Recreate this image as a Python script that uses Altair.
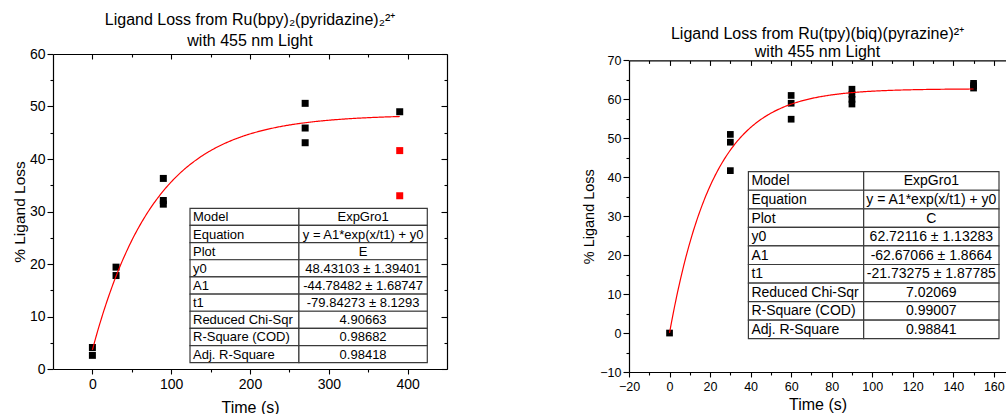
import altair as alt
import pandas as pd
import numpy as np

FONT = "Liberation Sans"

# ---------------- data ----------------
# Left panel: Ru(bpy)2(pyridazine)2 2+
left_black_t = [0, 0, 30, 30, 90, 90, 90, 270, 270, 270, 390]
left_black_y = [4.1, 2.6, 19.4, 17.8, 36.3, 32.1, 31.4, 50.6, 45.9, 43.1, 49.0]
left_red_t = [390, 390]
left_red_y = [41.6, 33.0]
left_fit = {"y0": 48.43103, "A1": -44.78482, "t1": -79.84273}
left_fit_tmax = 390
left_table_values = ["ExpGro1", "y = A1*exp(x/t1) + y0", "E",
                     "48.43103 ± 1.39401", "-44.78482 ± 1.68747",
                     "-79.84273 ± 8.1293", "4.90663", "0.98682", "0.98418"]
left_xticks = [0, 100, 200, 300, 400]
left_xminor = [50, 150, 250, 350]
left_yticks = [0, 10, 20, 30, 40, 50, 60]
left_yminor = [5, 15, 25, 35, 45, 55]

# Right panel: Ru(tpy)(biq)(pyrazine) 2+
right_t = [0, 30, 30, 30, 60, 60, 60, 90, 90, 90, 90, 150, 150, 150]
right_y = [0.0, 51.0, 49.0, 41.7, 61.0, 59.0, 54.9, 62.6, 61.3, 60.0, 58.8, 64.1, 63.5, 62.9]
right_fit = {"y0": 62.72116, "A1": -62.67066, "t1": -21.73275}
right_fit_tmax = 150
right_table_values = ["ExpGro1", "y = A1*exp(x/t1) + y0", "C",
                      "62.72116 ± 1.13283", "-62.67066 ± 1.8664",
                      "-21.73275 ± 1.87785", "7.02069", "0.99007", "0.98841"]
right_xticks = [-20, 0, 20, 40, 60, 80, 100, 120, 140, 160]
right_xminor = [-10, 10, 30, 50, 70, 90, 110, 130, 150]
right_yticks = [-10, 0, 10, 20, 30, 40, 50, 60, 70]
right_yminor = [-5, 5, 15, 25, 35, 45, 55, 65]

table_labels = ["Model", "Equation", "Plot", "y0", "A1", "t1",
                "Reduced Chi-Sqr", "R-Square (COD)", "Adj. R-Square"]

NB = "\u00a0"


def fit_curve(fit, tmax):
    t = np.linspace(0, tmax, 300)
    return pd.DataFrame({"t": t, "y": fit["y0"] + fit["A1"] * np.exp(t / fit["t1"])})


def make_panel(black_t, black_y, red_t, red_y, fit, tmax, tvals,
               xdom, ydom, W, H, ytop, xmaj, xmin, ymaj, ymin, st, box, mirror_right, title):
    xs = alt.Scale(domain=xdom, nice=False, zero=False)
    ys = alt.Scale(domain=ydom, nice=False, zero=False, range=[H, ytop])
    pts = pd.DataFrame({"t": black_t, "y": black_y})
    reds = pd.DataFrame({"t": red_t, "y": red_y})
    curve = fit_curve(fit, tmax)

    common = dict(grid=False, domainColor="black", tickColor="black",
                  labelColor="black", titleColor="black", labelFont=FONT,
                  titleFont=FONT, domainWidth=1.2, tickWidth=1.1)
    hide = dict(labels=False, title=None)
    top_off = -(H - ytop)

    # visible points with primary axes
    l1 = alt.Chart(pts).mark_square(size=st["msize"], color="black", opacity=1).encode(
        x=alt.X("t:Q", scale=xs, axis=alt.Axis(
            orient="bottom", values=xmaj, tickSize=5, labelFontSize=st["lab"],
            title="Time (s)", titleFontSize=st["xtit"], titleFontWeight="normal",
            labelPadding=3, titlePadding=st["xtp"], labelFlush=False, **common)),
        y=alt.Y("y:Q", scale=ys, axis=alt.Axis(
            orient="left", values=ymaj, tickSize=6, labelFontSize=st["lab"],
            title="% Ligand Loss", titleFontSize=st["ytit"], titleFontWeight="normal",
            labelPadding=2, titlePadding=st["ytp"], labelFlush=False, **common)),
    )
    # minor ticks bottom / left
    l2 = alt.Chart(pts).mark_point(opacity=0).encode(
        x=alt.X("t:Q", scale=xs, axis=alt.Axis(orient="bottom", values=xmin, tickSize=3,
                                               domain=False, **hide, **common)),
        y=alt.Y("y:Q", scale=ys, axis=alt.Axis(orient="left", values=ymin, tickSize=3,
                                               domain=False, **hide, **common)),
    )
    # top (inward) and right (inward) mirrored ticks
    yr_major = alt.Axis(orient="left", offset=-W, values=ymaj, tickSize=6, **hide, **common) \
        if mirror_right else None
    yr_minor = alt.Axis(orient="left", offset=-W, values=ymin, tickSize=3, domain=False,
                        **hide, **common) if mirror_right else None
    l3 = alt.Chart(pts).mark_point(opacity=0).encode(
        x=alt.X("t:Q", scale=xs, axis=alt.Axis(orient="bottom", offset=top_off, values=xmaj,
                                               tickSize=5, **hide, **common)),
        y=alt.Y("y:Q", scale=ys, axis=yr_major),
    )
    l4 = alt.Chart(pts).mark_point(opacity=0).encode(
        x=alt.X("t:Q", scale=xs, axis=alt.Axis(orient="bottom", offset=top_off, values=xmin,
                                               tickSize=3, domain=False, **hide, **common)),
        y=alt.Y("y:Q", scale=ys, axis=yr_minor),
    )
    layers = [l1, l2, l3, l4]
    if len(red_t):
        layers.append(alt.Chart(reds).mark_square(size=st["msize"], color="#ff0000", opacity=1).encode(
            x=alt.X("t:Q", scale=xs, axis=None), y=alt.Y("y:Q", scale=ys, axis=None)))
    layers.append(alt.Chart(curve).mark_line(color="#ff0000", strokeWidth=1.2).encode(
        x=alt.X("t:Q", scale=xs, axis=None), y=alt.Y("y:Q", scale=ys, axis=None)))
    main = alt.layer(*layers).resolve_axis(x="independent", y="independent")

    # fit-result table
    x0, x1, y0, y1, split = box
    n = len(table_labels)
    rows = list(range(n))
    cells = pd.DataFrame({"row": rows * 2, "row1": [r + 1 for r in rows] * 2,
                          "c0": [0.0] * n + [split] * n, "c1": [split] * n + [1.0] * n})
    texts = pd.DataFrame({"label": table_labels, "value": tvals,
                          "mid": [r + 0.5 for r in rows],
                          "lx": [0.0] * n, "vx": [(split + 1) / 2] * n})
    tx = alt.Scale(domain=[0, 1], range=[x0, x1], nice=False, zero=False)
    ty = alt.Scale(domain=[0, n], range=[y0, y1], nice=False, zero=False)
    rect = alt.Chart(cells).mark_rect(fill="white", stroke="#3a3a3a", strokeWidth=1.2).encode(
        x=alt.X("c0:Q", scale=tx, axis=None), x2="c1:Q",
        y=alt.Y("row:Q", scale=ty, axis=None), y2="row1:Q")
    lab = alt.Chart(texts).mark_text(align="left", baseline="middle", dx=3, dy=0.5,
                                     font=FONT, fontSize=st["tab"], color="black").encode(
        x=alt.X("lx:Q", scale=tx, axis=None), y=alt.Y("mid:Q", scale=ty, axis=None),
        text="label:N")
    val = alt.Chart(texts).mark_text(align="center", baseline="middle", dy=0.5,
                                     font=FONT, fontSize=st["tab"], color="black").encode(
        x=alt.X("vx:Q", scale=tx, axis=None), y=alt.Y("mid:Q", scale=ty, axis=None),
        text="value:N")

    return alt.layer(main, rect, lab, val).resolve_scale(
        x="independent", y="independent").properties(
        width=W, height=H,
        title=alt.TitleParams(text=title[0], subtitle=title[1], anchor="middle",
                              font=FONT, subtitleFont=FONT, fontSize=st["tit"],
                              subtitleFontSize=st["tit"], fontWeight="normal",
                              color="black", subtitleColor="black",
                              subtitlePadding=st["subpad"], offset=st["toff"]))


left = make_panel(
    left_black_t, left_black_y, left_red_t, left_red_y, left_fit, left_fit_tmax,
    left_table_values, [-50, 450], [0, 60], 394, 315, 0,
    left_xticks, left_xminor, left_yticks, left_yminor,
    dict(msize=49, lab=14, xtit=16, ytit=15.5, xtp=8, ytp=2, tab=13, tit=16,
         subpad=5, toff=-2),
    (137, 374.3, 154.3, 308.7, 0.459), True,
    ("Ligand Loss from Ru(bpy)\u2082(pyridazine)\u2082\u00b2\u207a" + NB * 14,
     "with 455 nm Light"))

right = make_panel(
    right_t, right_y, [], [], right_fit, right_fit_tmax,
    right_table_values, [-20, 166], [-10, 70], 377, 318, 6.4,
    right_xticks, right_xminor, right_yticks, right_yminor,
    dict(msize=45, lab=12.5, xtit=16, ytit=14.5, xtp=4, ytp=3, tab=14, tit=16,
         subpad=2, toff=-6),
    (119.4, 370, 117.7, 284.7, 0.46), False,
    ("Ligand Loss from Ru(tpy)(biq)(pyrazine)\u00b2\u207a", "with 455 nm Light"))

chart = alt.hconcat(left, right, spacing=133).properties(
    padding={"left": 12, "top": 12, "right": 0, "bottom": 0}
).configure_view(stroke=None).configure_concat(spacing=133)

chart.save("out.html", embed_options={"renderer": "svg", "actions": False})
